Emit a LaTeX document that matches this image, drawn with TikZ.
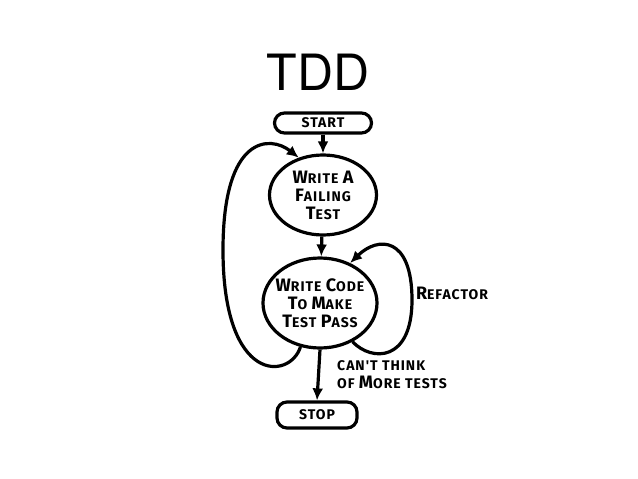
\documentclass[tikz,border=0pt]{standalone}
\usepackage{fontspec}
\setmainfont{TeX Gyre Heros}
\newfontfamily\handfont{Fira Sans}[LetterSpace=7]
\usetikzlibrary{arrows.meta,shapes.geometric}
\newcommand{\bigch}[1]{{\fontsize{18}{18}\selectfont #1}}
\tikzset{
  hand/.style={font=\handfont\bfseries\fontsize{14}{18}\selectfont, align=center},
  bubble/.style={draw, ellipse, hand, inner xsep=-8pt, inner ysep=0pt},
  endbox/.style={draw, rectangle, rounded corners=10pt, hand, inner sep=0pt}
}
\begin{document}
\begin{tikzpicture}[x=1pt,y=-1pt,line width=3.2pt,>={Latex[length=12pt,width=11pt]}]
\useasboundingbox (0,0) rectangle (638,479);
\node (title) at (318,72) {\fontsize{50}{50}\selectfont TDD};
\node[endbox, minimum width=97pt, minimum height=20pt] (start) at (323,123) {START};
\node[bubble, minimum width=107pt, minimum height=80pt] (fail) at (323,195)
  {\bigch{W}RITE \bigch{A}\\\bigch{F}AILING\\\bigch{T}EST};
\node[bubble, minimum width=114pt, minimum height=90pt] (pass) at (320,303)
  {\bigch{W}RITE \bigch{C}ODE\\\bigch{T}O \bigch{M}AKE\\\bigch{T}EST \bigch{P}ASS};
\node[endbox, minimum width=80pt, minimum height=26pt] (stop) at (317,415) {STOP};
\node[hand] (refactor) at (452,293) {\bigch{R}EFACTOR};
\node[hand, align=left] (nomore) at (392,375) {CAN'T THINK\\OF \bigch{M}ORE TESTS};
\draw[->] (start) -- (fail);
\draw[->] (fail) -- (pass);
\draw[->] (pass.south) -- (stop.north);
% loop back for the next test
\draw[->] (pass.246) .. controls (290,380) and (223,385) .. (223,250)
  .. controls (223,135) and (270,135) .. (fail.123);
% refactor loop
\draw[->] (pass.310) .. controls (372,362) and (412,362) .. (412,300)
  .. controls (412,236) and (378,236) .. (pass.53);
\end{tikzpicture}
\end{document}
